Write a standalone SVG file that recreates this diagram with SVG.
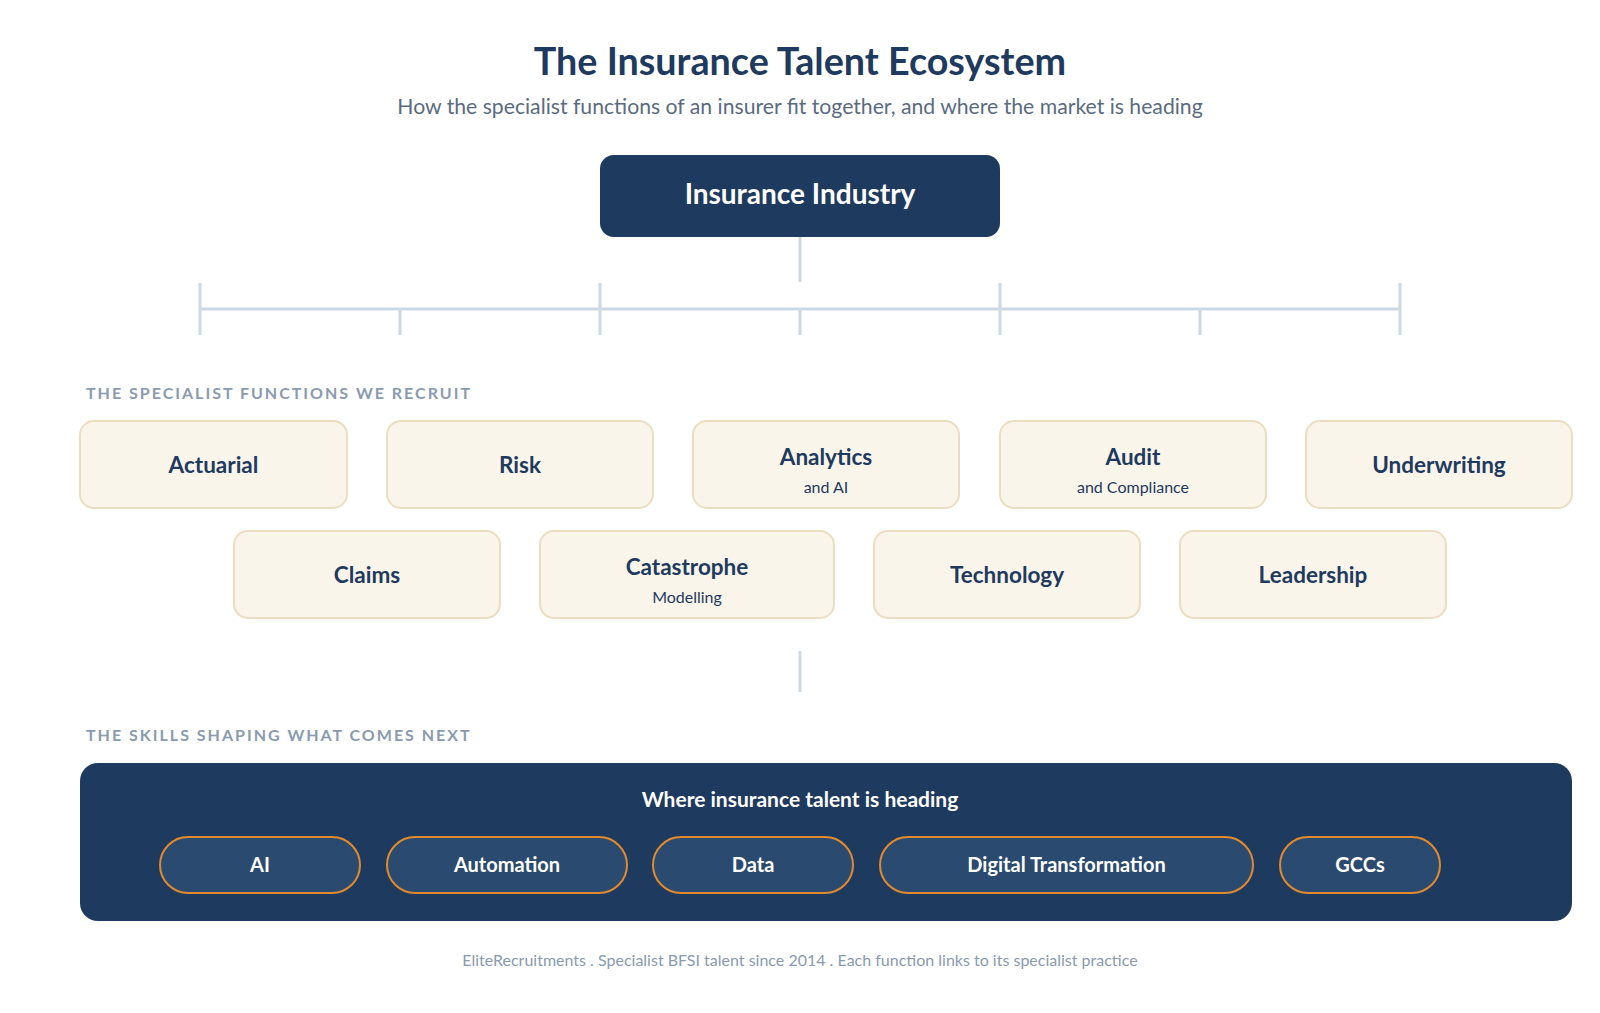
<svg xmlns="http://www.w3.org/2000/svg" width="1600" height="1013" viewBox="0 0 1600 1013">
<style>
text{font-family:Lato,"Liberation Sans",sans-serif}
.title{font-size:37.7px;font-weight:700;fill:#1f3a5f}
.sub{font-size:21.2px;fill:#5a6b80}
.sec{font-size:16px;font-weight:700;fill:#8a9ab0;letter-spacing:2px}
.box{fill:#faf5ea;stroke:#ecdcc0;stroke-width:2}
.bt{font-size:22.5px;font-weight:700;fill:#1f3a5f;text-anchor:middle}
.bs{font-size:16px;fill:#1f3a5f;text-anchor:middle}
.con{stroke:#cdd8e5;stroke-width:3;fill:none}
.pill{fill:#2a4a70;stroke:#e08a2c;stroke-width:2}
.pt{font-size:20px;font-weight:700;fill:#ffffff;text-anchor:middle}
.foot{font-size:16px;fill:#8a9ab0}
</style>
<rect width="1600" height="1013" fill="#ffffff"/>
<text class="title" x="800" y="75" text-anchor="middle">The Insurance Talent Ecosystem</text>
<text class="sub" x="800" y="114" text-anchor="middle">How the specialist functions of an insurer fit together, and where the market is heading</text>

<g id="connectors">
<line class="con" x1="800" y1="237" x2="800" y2="282"/>
<line class="con" x1="200" y1="309" x2="1400" y2="309"/>
<line class="con" x1="200" y1="283" x2="200" y2="335"/>
<line class="con" x1="600" y1="283" x2="600" y2="335"/>
<line class="con" x1="1000" y1="283" x2="1000" y2="335"/>
<line class="con" x1="1400" y1="283" x2="1400" y2="335"/>
<line class="con" x1="400" y1="309" x2="400" y2="335"/>
<line class="con" x1="800" y1="309" x2="800" y2="335"/>
<line class="con" x1="1200" y1="309" x2="1200" y2="335"/>
<line class="con" x1="800" y1="651" x2="800" y2="692"/>
</g>

<g id="industry">
<rect x="600" y="155" width="400" height="82" rx="14" fill="#1f3a5f"/>
<text x="800" y="204" text-anchor="middle" font-size="28" font-weight="700" fill="#ffffff">Insurance Industry</text>
</g>

<text class="sec" x="86" y="399">THE SPECIALIST FUNCTIONS WE RECRUIT</text>

<g id="actuarial"><rect class="box" x="80" y="421" width="267" height="87" rx="14"/><text class="bt" x="213.5" y="473">Actuarial</text></g>
<g id="risk"><rect class="box" x="387" y="421" width="266" height="87" rx="14"/><text class="bt" x="520" y="473">Risk</text></g>
<g id="analytics"><rect class="box" x="693" y="421" width="266" height="87" rx="14"/><text class="bt" x="826" y="465">Analytics</text><text class="bs" x="826" y="493">and AI</text></g>
<g id="audit"><rect class="box" x="1000" y="421" width="266" height="87" rx="14"/><text class="bt" x="1133" y="465">Audit</text><text class="bs" x="1133" y="493">and Compliance</text></g>
<g id="underwriting"><rect class="box" x="1306" y="421" width="266" height="87" rx="14"/><text class="bt" x="1439" y="473">Underwriting</text></g>

<g id="claims"><rect class="box" x="234" y="531" width="266" height="87" rx="14"/><text class="bt" x="367" y="583">Claims</text></g>
<g id="catastrophe"><rect class="box" x="540" y="531" width="294" height="87" rx="14"/><text class="bt" x="687" y="575">Catastrophe</text><text class="bs" x="687" y="603">Modelling</text></g>
<g id="technology"><rect class="box" x="874" y="531" width="266" height="87" rx="14"/><text class="bt" x="1007" y="583">Technology</text></g>
<g id="leadership"><rect class="box" x="1180" y="531" width="266" height="87" rx="14"/><text class="bt" x="1313" y="583">Leadership</text></g>

<text class="sec" x="86" y="741">THE SKILLS SHAPING WHAT COMES NEXT</text>

<g id="skills">
<rect x="80" y="763" width="1492" height="158" rx="18" fill="#1f3a5f"/>
<text x="800" y="807" text-anchor="middle" font-size="21" font-weight="700" fill="#ffffff">Where insurance talent is heading</text>
<g id="pill-ai"><rect class="pill" x="160" y="837" width="200" height="56" rx="28"/><text class="pt" x="260" y="872">AI</text></g>
<g id="pill-automation"><rect class="pill" x="387" y="837" width="240" height="56" rx="28"/><text class="pt" x="507" y="872">Automation</text></g>
<g id="pill-data"><rect class="pill" x="653" y="837" width="200" height="56" rx="28"/><text class="pt" x="753" y="872">Data</text></g>
<g id="pill-digital"><rect class="pill" x="880" y="837" width="373" height="56" rx="28"/><text class="pt" x="1066.5" y="872">Digital Transformation</text></g>
<g id="pill-gccs"><rect class="pill" x="1280" y="837" width="160" height="56" rx="28"/><text class="pt" x="1360" y="872">GCCs</text></g>
</g>

<text class="foot" x="800" y="966" text-anchor="middle">EliteRecruitments . Specialist BFSI talent since 2014 . Each function links to its specialist practice</text>
</svg>
